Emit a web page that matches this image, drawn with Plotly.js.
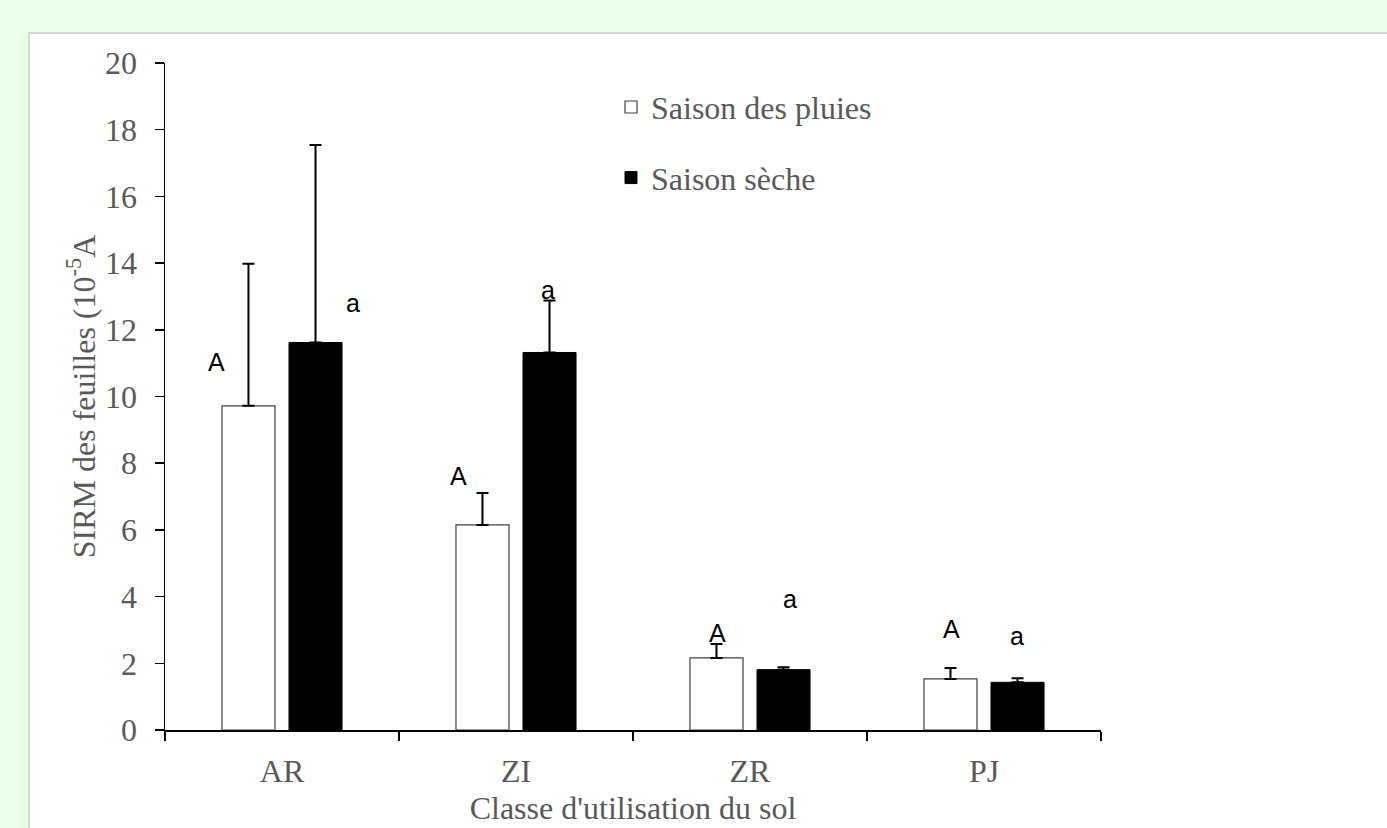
<!DOCTYPE html>
<html>
<head>
<meta charset="utf-8">
<script src="https://cdn.plot.ly/plotly-3.0.1.min.js"></script>
<style>
  html, body { margin: 0; padding: 0; background: #e9fde9; width: 1387px; height: 828px; overflow: hidden; }
  #panel { position: absolute; left: 28px; top: 32px; width: 1359px; height: 796px; background: #ffffff;
           border-top: 2px solid #d6d6d6; border-left: 2px solid #d6d6d6; box-sizing: border-box; }
  #chart { position: absolute; left: 0; top: 0; width: 1387px; height: 828px; }
</style>
</head>
<body>
<div id="panel"></div>
<div id="chart"></div>
<script>
// Data
const categories = ["AR", "ZI", "ZR", "PJ"];
const seriesNames = ["Saison des pluies", "Saison sèche"];
const pluiesValues = [9.72, 6.15, 2.16, 1.53];
const pluiesErrors = [4.26, 0.96, 0.42, 0.33];
const secheValues = [11.62, 11.32, 1.81, 1.43];
const secheErrors = [5.92, 1.56, 0.07, 0.12];
const pluiesLetters = ["A", "A", "A", "A"];
const secheLetters = ["a", "a", "a", "a"];
const yTickVals = [0, 2, 4, 6, 8, 10, 12, 14, 16, 18, 20];
const xTitle = "Classe d'utilisation du sol";
const yTitle = "SIRM des feuilles (10<sup>-5</sup>A";

const serif = "Liberation Serif, Times New Roman, serif";
const sans = "Liberation Sans, Arial, sans-serif";
const grey = "#595959";

const traces = [
  {
    type: "bar", name: seriesNames[0], x: categories, y: pluiesValues,
    marker: { color: "#ffffff", line: { color: "#404040", width: 1.2 } },
    error_y: { type: "data", symmetric: false, array: pluiesErrors, arrayminus: pluiesErrors.map(() => 0),
               color: "#000000", thickness: 2, width: 6 },
    legendgroup: "g1"
  },
  {
    type: "bar", name: seriesNames[1], x: categories, y: secheValues,
    marker: { color: "#000000", line: { color: "#000000", width: 1 } },
    error_y: { type: "data", symmetric: false, array: secheErrors, arrayminus: secheErrors.map(() => 0),
               color: "#000000", thickness: 2, width: 6 },
    legendgroup: "g2"
  }
];

// Letter annotation placement (positions only)
const pluiesLetterPos = [[-0.278, 11.02], [0.756, 7.63], [1.859, 2.92], [2.863, 3.04]];
const secheLetterPos = [[0.303, 12.79], [1.137, 13.18], [2.171, 3.94], [3.141, 2.83]];

const annotations = [];
pluiesLetters.forEach((t, i) => annotations.push({
  x: pluiesLetterPos[i][0], y: pluiesLetterPos[i][1], xref: "x", yref: "y", text: t, showarrow: false,
  font: { family: sans, size: 25, color: "#000000" }, xanchor: "center", yanchor: "middle"
}));
secheLetters.forEach((t, i) => annotations.push({
  x: secheLetterPos[i][0], y: secheLetterPos[i][1], xref: "x", yref: "y", text: t, showarrow: false,
  font: { family: sans, size: 25, color: "#000000" }, xanchor: "center", yanchor: "middle"
}));

const layout = {
  width: 1387, height: 828,
  paper_bgcolor: "rgba(0,0,0,0)", plot_bgcolor: "rgba(0,0,0,0)",
  margin: { l: 165, r: 286, t: 63, b: 98, pad: 0 },
  barmode: "group", bargap: 0.427, bargroupgap: 0.209,
  showlegend: true,
  legend: {
    x: 0.4765, y: 0.975, xanchor: "left", yanchor: "top",
    font: { family: serif, size: 32, color: grey },
    traceorder: "grouped", tracegroupgap: 26, bgcolor: "rgba(0,0,0,0)"
  },
  xaxis: {
    type: "category", showline: true, linecolor: "#000000", linewidth: 1.5,
    ticks: "outside", tickson: "boundaries", ticklen: 9, tickcolor: "#000000", tickwidth: 1.5,
    ticklabelstandoff: 12,
    tickfont: { family: serif, size: 32, color: grey }, showgrid: false, zeroline: false,
    title: { text: xTitle, font: { family: serif, size: 32, color: grey }, standoff: 8 }
  },
  yaxis: {
    range: [0, 20], tickvals: yTickVals, showline: true, linecolor: "#000000", linewidth: 1.5,
    ticks: "outside", ticklen: 9, tickcolor: "#000000", tickwidth: 1.5,
    ticklabelstandoff: 11,
    tickfont: { family: serif, size: 32, color: grey }, showgrid: false, zeroline: false,
    title: { text: yTitle, font: { family: serif, size: 32, color: grey }, standoff: 0 }
  },
  annotations: annotations
};

Plotly.newPlot("chart", traces, layout, { displayModeBar: false, staticPlot: true });
</script>
</body>
</html>
